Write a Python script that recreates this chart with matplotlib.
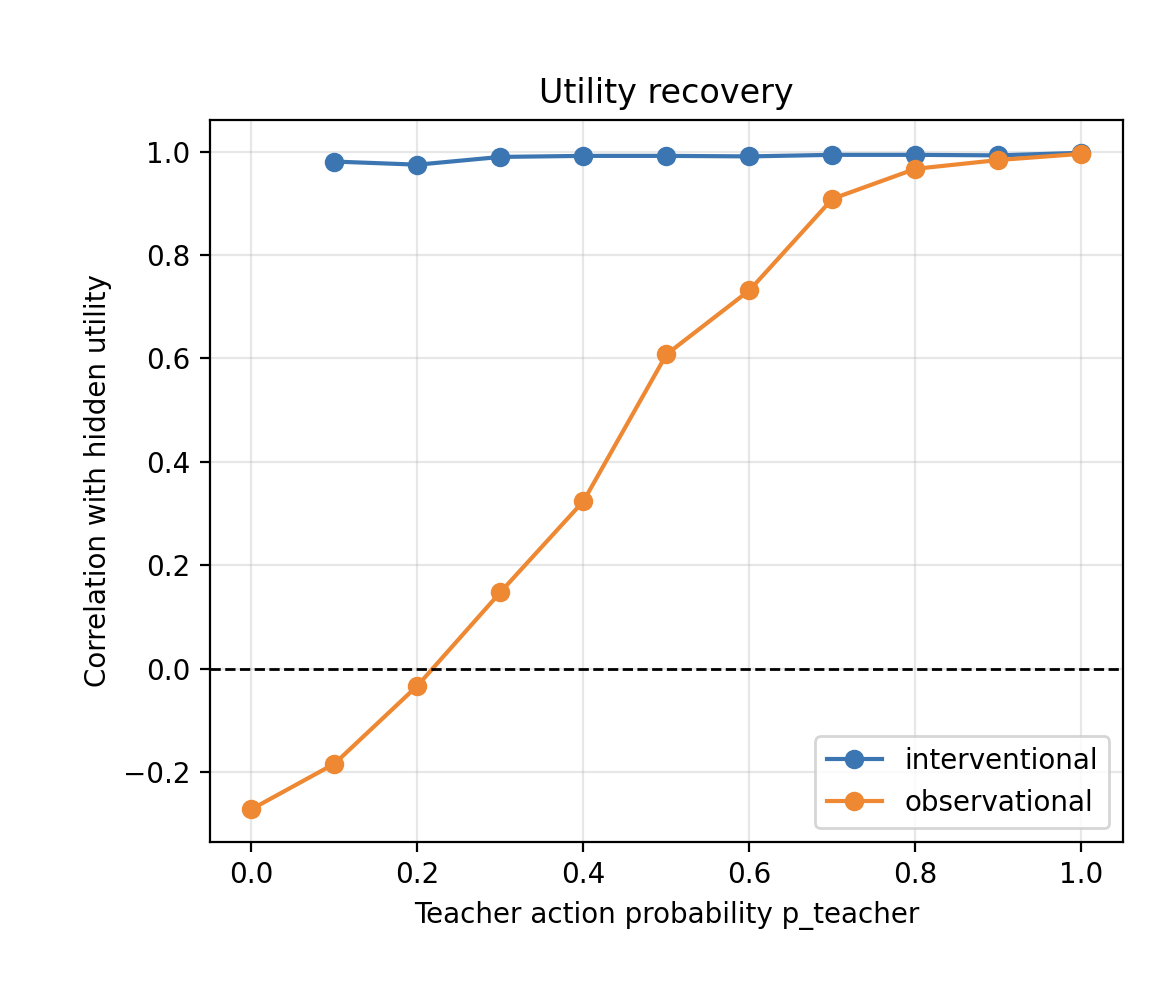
import matplotlib
matplotlib.use("Agg")
import matplotlib.pyplot as plt

p_teacher = [0.0, 0.1, 0.2, 0.3, 0.4, 0.5, 0.6, 0.7, 0.8, 0.9, 1.0]
p_interv = [0.1, 0.2, 0.3, 0.4, 0.5, 0.6, 0.7, 0.8, 0.9, 1.0]
interventional = [0.981, 0.975, 0.990, 0.992, 0.992, 0.991, 0.994, 0.994, 0.993, 0.998]
observational = [-0.272, -0.184, -0.033, 0.148, 0.324, 0.608, 0.732, 0.909, 0.967, 0.984, 0.996]

DPI = 200
fig = plt.figure(figsize=(1157/DPI, 998/DPI), dpi=DPI)
ax = fig.add_axes([0.1815, 0.1563, 0.9706-0.1815, 0.8798-0.1563])
ax.plot(p_interv, interventional, marker='o', color='#3b76b3', label='interventional')
ax.plot(p_teacher, observational, marker='o', color='#ee8833', label='observational')
ax.axhline(0, color='black', linestyle='--', linewidth=1)
ax.grid(True, alpha=0.3)
ax.set_xlabel('Teacher action probability p_teacher')
ax.set_ylabel('Correlation with hidden utility')
ax.set_title('Utility recovery')
ax.legend(loc='lower right')
fig.savefig('out.png', dpi=DPI)
